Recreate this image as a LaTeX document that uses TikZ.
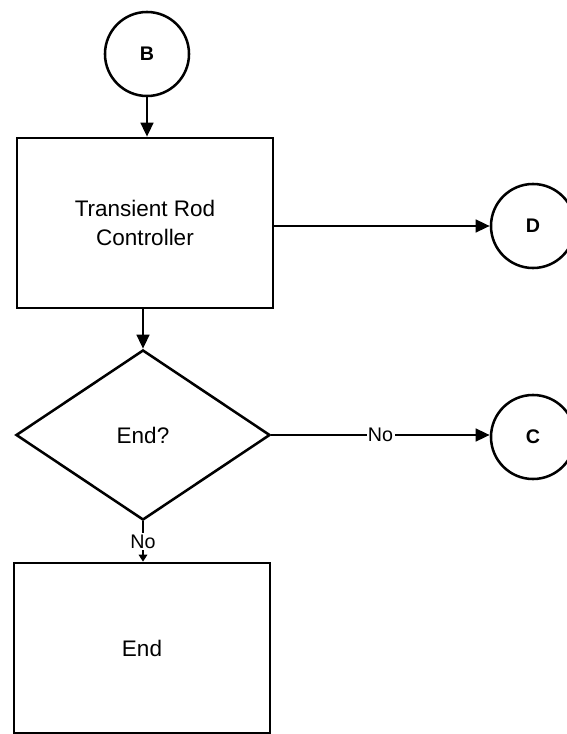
\documentclass[tikz,border=0pt]{standalone}
\usepackage{fontspec}
\setmainfont{Liberation Sans}
\usetikzlibrary{shapes.geometric,arrows.meta}

\tikzset{
  conn/.style={circle, draw, line width=1.8pt, minimum size=2.1cm, inner sep=0pt,
    font=\fontsize{14}{16}\selectfont\bfseries},
  procbox/.style={rectangle, draw, line width=1.8pt, minimum width=6.4cm,
    minimum height=4.25cm, align=center, font=\fontsize{16}{21}\selectfont},
  decision/.style={diamond, draw, line width=1.8pt, minimum width=6.35cm,
    minimum height=4.25cm, inner sep=0pt, font=\fontsize{16}{21}\selectfont},
  arr/.style={line width=1.8pt, -{Triangle[length=10pt,width=9pt]}},
  lbl/.style={fill=white, inner sep=1pt, font=\fontsize{14}{16}\selectfont}
}

\begin{document}
\begin{tikzpicture}[x=0.025cm, y=-0.025cm]
  \useasboundingbox (0,0) rectangle (566,734);

  % connectors and boxes
  \node[conn] (B) at (147,54) {B};
  \node[procbox] (trc) at (145,223) {Transient Rod\\Controller};
  \node[conn] (D) at (533,226) {D};
  \node[decision] (dec) at (143,435) {End?};
  \node[conn] (C) at (533,437) {C};
  \node[procbox] (endbox) at (142,648) {End};

  % flow
  \draw[arr] (B) -- (B |- trc.north);
  \draw[arr] (trc.east |- D) -- (D);
  \draw[arr] (dec.north |- trc.south) -- (dec.north);
  \draw[arr] (dec.east) -- node[lbl] {No} (C.west |- dec.east);
  \draw[line width=1.8pt, -{Triangle[length=5pt,width=6pt]}]
    (dec.south) -- node[lbl] {No} (dec.south |- endbox.north);
\end{tikzpicture}
\end{document}
